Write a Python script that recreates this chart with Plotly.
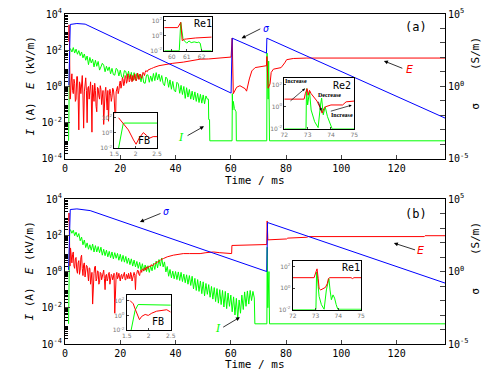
import plotly.graph_objects as go

FONT = "DejaVu Sans Mono"
RED, GREEN, BLUE = "#ff0000", "#00ff00", "#0000ff"

# ---------------- sample times of the noisy parts (ms) ----------------
T_NOISE = [2.0, 2.5, 3.0, 3.5, 4.0, 4.5, 5.0, 5.5, 6.0, 6.5, 7.0, 7.5, 8.0, 8.5, 9.0, 9.5,
           10.0, 10.5, 11.0, 11.5, 12.0, 12.5, 13.0, 13.5, 14.0, 14.5, 15.0, 15.5, 16.0, 16.5,
           17.0, 17.5, 18.0, 18.5, 19.0, 19.5, 20.0, 20.5, 21.0, 21.5, 22.0, 22.5, 23.0, 23.5,
           24.0, 24.5, 25.0, 25.5, 26.0, 26.5, 27.0, 27.5, 28.0, 28.5, 29.0, 29.5, 30.0, 30.5,
           31.0, 31.5, 32.0, 32.5, 33.0, 33.5, 34.0, 34.5, 35.0, 35.5, 36.0, 36.5, 37.0, 37.5,
           38.0, 38.5, 39.0, 39.5, 40.0, 40.5, 41.0, 41.5, 42.0, 42.5, 43.0, 43.5, 44.0, 44.5,
           45.0, 45.5, 46.0, 46.5, 47.0, 47.5, 48.0, 48.5, 49.0, 49.5, 50.0, 50.5, 51.0, 51.5,
           52.0, 52.5, 53.0, 53.5, 54.0, 54.5, 55.0, 55.5, 56.0, 56.5, 57.0, 57.5, 58.0, 58.5,
           59.0, 59.5, 60.0, 60.5, 61.0, 61.5, 62.0, 62.5, 63.0, 63.5, 64.0, 64.5, 65.0, 65.5,
           66.0, 66.5, 67.0, 67.5, 68.0, 68.5]
T_FINE = [2.0, 2.25, 2.5, 2.75, 3.0, 3.25, 3.5, 3.75, 4.0, 4.25, 4.5, 4.75, 5.0, 5.25, 5.5, 5.75,
          6.0, 6.25, 6.5, 6.75, 7.0, 7.25, 7.5, 7.75, 8.0, 8.25, 8.5, 8.75, 9.0, 9.25, 9.5, 9.75,
          10.0, 10.25, 10.5, 10.75, 11.0, 11.25, 11.5, 11.75, 12.0, 12.25, 12.5, 12.75, 13.0, 13.25,
          13.5, 13.75, 14.0, 14.25, 14.5, 14.75, 15.0, 15.25, 15.5, 15.75, 16.0, 16.25, 16.5, 16.75,
          17.0, 17.25, 17.5, 17.75, 18.0, 18.25, 18.5, 18.75, 19.0, 19.25, 19.5, 19.75, 20.0, 20.25,
          20.5, 20.75, 21.0, 21.25, 21.5, 21.75, 22.0, 22.25, 22.5, 22.75, 23.0, 23.25, 23.5, 23.75,
          24.0, 24.25, 24.5, 24.75, 25.0, 25.25, 25.5, 25.75, 26.0, 26.25, 26.5, 26.75, 27.0, 27.25,
          27.5, 27.75, 28.0, 28.25, 28.5, 28.75, 29.0, 29.25, 29.5, 29.75, 30.0, 30.25, 30.5, 30.75,
          31.0, 31.25, 31.5, 31.75, 32.0, 32.25, 32.5, 32.75, 33.0, 33.25, 33.5, 33.75, 34.0, 34.25,
          34.5, 34.75]

# ---------------- panel (a) ----------------
# current I (A), noisy part t = 2.0 .. 51.5
I_A_NOISE = [120, 80, 140, 70, 115, 60, 95, 50, 80, 38,
             62, 28, 48, 16, 40, 20, 32, 12, 28, 13,
             24, 8, 12, 19, 15, 6.5, 13, 7.5, 12, 5,
             10, 4.5, 4.2, 10, 8.5, 3.8, 8, 3.4, 3.0, 7.5,
             6.8, 2.8, 7, 2.6, 6, 2.0, 5.8, 2.2, 5.2, 2.6,
             4.8, 1.8, 4.6, 1.6, 1.5, 4.2, 4.4, 1.7, 3.8, 1.9,
             5.2, 2.1, 5.8, 2.3, 4.8, 1.9, 4.0, 1.5, 1.1, 3.3,
             2.6, 0.9, 2.3, 0.7, 1.9, 0.62, 0.5, 1.7, 1.4, 0.42,
             1.15, 0.36, 1.0, 0.22, 0.85, 0.26, 0.68, 0.2, 0.55, 0.18,
             0.5, 0.15, 0.42, 0.13, 0.37, 0.12, 0.34, 0.11, 0.3, 0.2]
I_A_START_T = [1.3, 1.45, 1.7]
I_A_START_V = [0.001, 0.1, 120]
I_A_END_T = [51.9, 52.0, 52.3, 52.4, 60.45, 60.55, 60.7, 60.9, 61.3, 61.9, 62.0,
             73.0, 73.1, 73.5, 73.7, 74.0, 137.5]
I_A_END_V = [0.2, 0.015, 0.015, 0.001, 0.001, 0.4, 0.05, 0.15, 0.06, 0.04, 0.001,
             0.001, 70, 0.2, 25, 0.001, 0.001]

# electric field E (kV/m), noisy part t = 2.0 .. 31.75 (0.25 ms samples)
E_A_NOISE = [0.3, 2, 5, 0.6, 0.4, 2.5, 1.5, 0.15, 0.2, 3.5, 3.5, 0.3,
             0.004, 1.8, 1.2, 0.4, 2.5, 4, 0.3, 0.005, 0.5, 1.2, 3, 0.6,
             0.01, 0.8, 1, 0.2, 0.5, 1.8, 0.3, 0.003, 1.2, 0.4, 0.15, 1.5,
             0.6, 0.08, 0.04, 0.9, 0.8, 0.3, 0.2, 1.1, 0.7, 0.1, 0.3, 0.6,
             0.008, 0.4, 0.5, 0.9, 0.2, 0.05, 0.6, 0.012, 0.3, 0.7, 0.4, 0.15,
             0.25, 0.8, 0.7, 0.3, 0.05, 0.006, 0.5, 0.9, 1, 0.4, 0.6, 1.5,
             2, 0.8, 1.2, 3, 2.5, 1.1, 1.5, 4, 3.5, 1.5, 2, 5,
             4, 1.8, 2.2, 4.5, 3, 1.8, 4, 2.2, 2.5, 5, 3.5, 2,
             2.8, 5.5, 4.5, 2.4, 3, 4.8, 3.5, 2.8, 4.5, 6, 5, 4,
             6, 7.5, 7, 6.5, 8, 8.5, 8.5, 9, 9.5, 9.8, 10, 10.5]
E_A_START_T = [1.35, 1.45, 1.55, 1.7, 1.85]
E_A_START_V = [300, 2500, 1000, 30, 0.2]
E_A_END_T = [32.0, 34.0, 36.8, 39.0, 42.8, 45.0, 48.9, 52.0, 54.9, 58.0, 60.1,
             60.5, 60.9, 62.1, 63.3, 65.2, 65.7, 66.7, 67.6, 68.8, 72.4, 72.9,
             73.05, 73.5, 74.2, 74.6, 75.4, 78.2, 79.5, 80.2, 82.6, 87.5, 137.5]
E_A_END_V = [11, 14, 17, 19, 22, 25, 32, 33, 35, 38, 42,
             470, 0.4, 0.9, 1.1, 0.75, 0.55, 2.6, 7.2, 11, 14, 14,
             45, 0.8, 1.4, 5.9, 9, 11, 20, 30, 35, 37, 37]

# conductivity sigma (S/m)
S_A_T = [1.4, 1.9, 4.3, 7.3, 60.1, 60.5, 72.9, 73.05, 137.5]
S_A_V = [1.2, 1.9e4, 2.2e4, 2.0e4, 0.35, 2150, 200, 2150, 0.0066]

# ---------------- panel (b) ----------------
I_B_NOISE = [200, 130, 190, 95, 150, 80, 125, 50, 80, 30,
             55, 21, 38, 17, 30, 15, 33, 12, 27, 12,
             24, 11, 22, 8, 17, 7.5, 15, 6.5, 13, 5.8,
             12, 5, 11, 5.4, 10, 4.2, 9, 3.6, 7.8, 3.3,
             6.8, 2.8, 5.6, 2.4, 5, 2, 4.3, 1.8, 3.6, 1.5,
             3.2, 1.2, 2.7, 1.05, 2.3, 1.0, 2.1, 0.9, 2.0, 1.1,
             2.8, 1.3, 3.8, 1.6, 4.6, 2.0, 5.6, 1.8, 3.4, 0.95,
             1.9, 0.55, 1.3, 0.45, 1.05, 0.4, 1.0, 0.36, 0.95, 0.32,
             0.9, 0.28, 0.72, 0.24, 0.66, 0.2, 0.6, 0.17, 0.55, 0.11,
             0.42, 0.09, 0.36, 0.08, 0.3, 0.06, 0.27, 0.045, 0.22, 0.055,
             0.19, 0.038, 0.15, 0.03, 0.13, 0.022, 0.115, 0.018, 0.1, 0.015,
             0.09, 0.011, 0.08, 0.009, 0.065, 0.012, 0.05, 0.006, 0.04, 0.004,
             0.033, 0.0025, 0.027, 0.005, 0.05, 0.008, 0.075, 0.012, 0.085, 0.016,
             0.09, 0.025, 0.08, 0.035]
I_B_START_T = [1.3, 1.45, 1.7]
I_B_START_V = [0.0013, 0.1, 200]
I_B_END_T = [68.7, 73.05, 73.15, 73.4, 73.8, 74.0, 137.5]
I_B_END_V = [0.0013, 0.0013, 22, 0.01, 1.0, 0.0013, 0.0013]

# electric field, noisy part t = 2.0 .. 34.75 (0.25 ms samples)
E_B_NOISE = [20, 4, 3, 9, 12, 2, 1.5, 5, 6, 1.2, 0.8, 3,
             4, 0.7, 1.2, 6, 8, 1.5, 0.6, 2.5, 3, 0.5, 0.9, 2.2,
             2, 0.4, 0.3, 1.6, 1.5, 0.2, 0.5, 0.9, 0.016, 0.7, 0.8, 1.8,
             2, 0.3, 0.4, 1.1, 1, 0.2, 0.25, 0.9, 0.8, 0.35, 0.5, 1.0,
             1.2, 0.4, 0.1, 0.6, 0.7, 0.3, 0.4, 0.8, 0.9, 0.2, 0.3, 0.7,
             0.6, 0.35, 0.5, 0.8, 0.005, 0.4, 0.6, 0.9, 0.4, 0.5, 0.8, 0.45,
             0.3, 0.6, 0.7, 0.4, 0.5, 0.8, 0.9, 0.35, 0.35, 0.7, 0.6, 0.4,
             0.8, 0.5, 0.4, 0.9, 0.7, 0.3, 0.5, 0.8, 0.9, 0.6, 0.1, 0.7,
             0.8, 1.2, 1.1, 0.7, 0.6, 1.0, 1.2, 0.9, 1.4, 1.3, 1.1, 1.5,
             1.6, 1.2, 1.8, 1.7, 1.5, 1.9, 2, 1.8, 2.2, 2.4, 2, 2.3,
             2.4, 2.6, 2.7, 2.9, 3, 3.2, 3.4, 3.6, 3.8, 4.0, 4.2, 4.6]
E_B_START_T = [1.35, 1.45, 1.6, 1.8]
E_B_START_V = [600, 1700, 100, 2]
E_B_END_T = [35.6, 37.0, 39.2, 42.8, 45.0, 48.9, 51.0, 53.7, 56.0, 59.7, 60.3,
             60.4, 73.0, 73.15, 73.4, 80.2, 80.6, 87.5, 88.0, 130.0, 130.3, 137.5]
E_B_END_V = [5.2, 6.5, 8, 9.8, 9.8, 9.8, 11, 12, 11, 9.8, 9.8,
             27.5, 31, 620, 56, 63, 70, 78, 85, 85, 95, 95]

S_B_T = [1.3, 1.9, 4.3, 9.1, 73.0, 73.3, 137.5]
S_B_V = [1.3, 1.9e4, 2.1e4, 1.6e4, 1.0, 2400, 0.16]

# ---------------- insets ----------------
FB_A_ET = [1.60, 1.71, 1.83, 1.95, 2.01, 2.08, 2.18, 2.26, 2.32, 2.41, 2.5]
FB_A_EV = [100, 18.6, 2.5, 0.12, 0.033, 0.2, 1.1, 0.45, 0.2, 0.33, 0.33]
FB_A_IT = [1.6, 1.66, 1.71, 1.75, 2.5]
FB_A_IV = [0.01, 0.5, 18.6, 20, 20]

RE1_A_ET = [59.5, 60.4, 60.55, 60.6, 60.7, 60.85, 61.0, 61.6, 62.67]
RE1_A_EV = [12, 12, 40, 60, 0.22, 0.34, 0.37, 0.5, 0.65]
RE1_A_IT = [59.5, 60.5, 60.6, 60.75, 60.85, 61.0, 61.15, 61.3, 61.5, 61.7, 61.8, 61.9, 62.0, 62.67]
RE1_A_IV = [0.01, 0.01, 60, 0.4, 0.2, 0.1, 0.2, 0.12, 0.15, 0.12, 0.14, 0.1, 0.01, 0.01]

RE2_A_ET = [72.0, 72.85, 72.9, 72.98, 73.02, 73.08, 73.15, 73.3, 73.4, 73.55, 73.62, 73.7,
            73.78, 74.0, 74.5, 74.65, 75.0]
RE2_A_EV = [5.1, 5.1, 16, 46, 11.5, 32, 16, 6.2, 3.4, 0.74, 0.27, 0.74,
            1.05, 1.5, 1.5, 2.9, 3.4]
RE2_A_IT = [72.0, 72.93, 72.95, 73.0, 73.08, 73.15, 73.3, 73.45, 73.55, 73.6, 73.67, 73.75,
            73.85, 74.0, 74.05, 75.0]
RE2_A_IV = [0.01, 0.01, 46, 1.5, 26, 0.52, 0.045, 0.013, 1.5, 6.3, 0.19, 1.05,
            0.13, 0.013, 0.01, 0.01]

FB_B_ET = [1.575, 1.65, 1.69, 1.73, 1.79, 1.84, 1.92, 1.99, 2.07, 2.18, 2.41, 2.5]
FB_B_EV = [100, 36, 7.8, 1.7, 0.27, 0.74, 1.35, 1.0, 2.0, 3.7, 5.8, 2.8]
FB_B_IT = [1.6, 1.69, 1.76, 2.45, 2.5]
FB_B_IV = [0.01, 4.6, 29, 29, 24]

RE1_B_ET = [72.0, 72.94, 73.02, 73.07, 73.12, 73.16, 73.23, 73.33, 73.44, 73.52, 73.57, 73.62,
            74.56, 74.63, 74.69, 75.0]
RE1_B_EV = [9.5, 9.5, 32, 63, 7.8, 0.95, 0.69, 0.85, 1.2, 2.7, 7.8, 9.5,
            9.5, 7.8, 9.5, 9.5]
RE1_B_IT = [72.0, 73.02, 73.05, 73.09, 73.12, 73.16, 73.26, 73.38, 73.48, 73.55, 73.59, 73.64,
            73.7, 73.77, 73.84, 73.91, 73.98, 75.0]
RE1_B_IV = [0.01, 0.01, 32, 11, 1.4, 0.17, 0.03, 0.011, 0.69, 3.9, 7.8, 0.69,
            0.085, 0.24, 0.12, 0.03, 0.011, 0.011]

# ---------------- build ----------------
fig = go.Figure()


def add(x, y, color, xa, ya):
    fig.add_trace(go.Scatter(x=x, y=y, mode="lines", line=dict(color=color, width=1),
                             xaxis=xa, yaxis=ya, showlegend=False, hoverinfo="skip"))


nA = len(I_A_NOISE)
nEA = len(E_A_NOISE)
nB = len(I_B_NOISE)
nEB = len(E_B_NOISE)

add(I_A_START_T + T_NOISE[:nA] + I_A_END_T, I_A_START_V + I_A_NOISE + I_A_END_V, GREEN, "x", "y")
add(E_A_START_T + T_FINE[:nEA] + E_A_END_T, E_A_START_V + E_A_NOISE + E_A_END_V, RED, "x", "y")
add(S_A_T, S_A_V, BLUE, "x", "y2")

add(I_B_START_T + T_NOISE[:nB] + I_B_END_T, I_B_START_V + I_B_NOISE + I_B_END_V, GREEN, "x2", "y3")
add(E_B_START_T + T_FINE[:nEB] + E_B_END_T, E_B_START_V + E_B_NOISE + E_B_END_V, RED, "x2", "y3")
add(S_B_T, S_B_V, BLUE, "x2", "y4")

add(FB_A_IT, FB_A_IV, GREEN, "x3", "y5")
add(FB_A_ET, FB_A_EV, RED, "x3", "y5")
add(RE1_A_IT, RE1_A_IV, GREEN, "x4", "y6")
add(RE1_A_ET, RE1_A_EV, RED, "x4", "y6")
add(RE2_A_IT, RE2_A_IV, GREEN, "x5", "y7")
add(RE2_A_ET, RE2_A_EV, RED, "x5", "y7")
add(FB_B_IT, FB_B_IV, GREEN, "x6", "y8")
add(FB_B_ET, FB_B_EV, RED, "x6", "y8")
add(RE1_B_IT, RE1_B_IV, GREEN, "x7", "y9")
add(RE1_B_ET, RE1_B_EV, RED, "x7", "y9")

# ---------------- axes ----------------
W, H = 491, 371
ML, MR, MT, MB = 65, 46, 7, 27
PW, PH = W - ML - MR, H - MT - MB


def dx(px):
    return (px - ML) / PW


def dy(py):
    return (H - MB - py) / PH


tickfont = dict(family=FONT, size=10, color="black")
minor_left = [m * 10.0 ** k for k in range(-4, 4) for m in range(2, 10)]

common_x = dict(range=[0, 137.5], tickvals=[0, 20, 40, 60, 80, 100, 120], ticks="inside",
                ticklen=4, showline=True, linecolor="black", linewidth=1, mirror=True,
                showgrid=False, zeroline=False, tickfont=tickfont)
left_vals = [1e-4, 1e-2, 1, 1e2, 1e4]
left_text = ["10<sup>-4</sup>", "10<sup>-2</sup>", "10<sup>0</sup>", "10<sup>2</sup>", "10<sup>4</sup>"]
common_yl = dict(type="log", range=[-4, 4], tickvals=left_vals, ticktext=left_text, ticks="inside",
                 ticklen=5, showline=True, linecolor="black", linewidth=1, showgrid=False,
                 zeroline=False, tickfont=tickfont,
                 minor=dict(tickvals=minor_left, ticks="inside", ticklen=3, tickcolor="black"))
right_vals = [10.0 ** k for k in range(-5, 6)]
right_text = ["10<sup>-5</sup>" if k == -5 else "10<sup>0</sup>" if k == 0 else "10<sup>5</sup>" if k == 5 else ""
              for k in range(-5, 6)]
common_yr = dict(type="log", range=[-5, 5], tickvals=right_vals, ticktext=right_text, ticks="inside",
                 ticklen=5, showline=True, linecolor="black", linewidth=1, showgrid=False,
                 zeroline=False, tickfont=tickfont, side="right")

A_TOP, A_BOT = 7, 155
B_TOP, B_BOT = 196, 344

layout = dict(
    width=W, height=H, margin=dict(l=ML, r=MR, t=MT, b=MB),
    paper_bgcolor="white", plot_bgcolor="white", showlegend=False,
    font=dict(family=FONT, size=10, color="black"),
    xaxis=dict(common_x, domain=[0, 1], anchor="y"),
    yaxis=dict(common_yl, domain=[dy(A_BOT), dy(A_TOP)], anchor="x"),
    yaxis2=dict(common_yr, overlaying="y", anchor="x"),
    xaxis2=dict(common_x, domain=[0, 1], anchor="y3"),
    yaxis3=dict(common_yl, domain=[dy(B_BOT), dy(B_TOP)], anchor="x2"),
    yaxis4=dict(common_yr, overlaying="y3", anchor="x2"),
)

inset_font = dict(family="DejaVu Sans", size=6, color="#777777")
inset_y = dict(type="log", tickvals=[1e-2, 1, 1e2],
               ticktext=["10<sup>-2</sup>", "10<sup>0</sup>", "10<sup>2</sup>"],
               ticks="inside", ticklen=2, showline=True, linecolor="black", linewidth=1, mirror=True,
               showgrid=False, zeroline=False, tickfont=inset_font)
inset_x = dict(ticks="inside", ticklen=2, showline=True, linecolor="black", linewidth=1, mirror=True,
               showgrid=False, zeroline=False, tickfont=inset_font)

insets = [
    # (xaxis, yaxis, px left, px right, py top, py bottom, xrange, yrange, xticks, xtext)
    (3, 5, 114.3, 157.0, 108.3, 144.0, [1.5, 2.5], [-2, 2.6], [1.5, 2, 2.5], ["1.5", "2", "2.5"]),
    (4, 6, 164.3, 211.7, 10.0, 44.5, [59.5, 62.67], [-2, 2.5], [60, 61, 62], ["60", "61", "62"]),
    (5, 7, 284.3, 354.3, 72.7, 124.3, [72, 75], [-2, 2.6], [72, 73, 74, 75], ["72", "73", "74", "75"]),
    (6, 8, 126.7, 170.7, 294.3, 330.0, [1.5, 2.5], [-2, 2.7], [1.5, 2, 2.5], ["1.5", "2", "2.5"]),
    (7, 9, 292.7, 361.0, 259.0, 309.0, [72, 75], [-2, 2.55], [72, 73, 74, 75], ["72", "73", "74", "75"]),
]
for xa, ya, l, r, t, b, xr, yr, xt, xtt in insets:
    layout["xaxis%d" % xa] = dict(inset_x, domain=[dx(l), dx(r)], anchor="y%d" % ya, range=xr,
                                  tickvals=xt, ticktext=xtt)
    layout["yaxis%d" % ya] = dict(inset_y, domain=[dy(b), dy(t)], anchor="x%d" % xa, range=yr)

fig.update_layout(**layout)

# ---------------- annotations ----------------
ann = []


def text(x, y, s, xref, yref, size=10, color="black", font=FONT, angle=0):
    ann.append(dict(x=x, y=y, xref=xref, yref=yref, text=s, showarrow=False, textangle=angle,
                    font=dict(family=font, size=size, color=color), xanchor="center", yanchor="middle"))


def arrow(hx, hy, tx, ty, xref, yref, w=0.8, head=2, size=1.0):
    ann.append(dict(x=hx, y=hy, ax=tx, ay=ty, xref=xref, yref=yref, axref=xref, ayref=yref,
                    text="", showarrow=True, arrowhead=head, arrowsize=size, arrowwidth=w,
                    arrowcolor="black"))


NB = "\u00a0"
# axis titles
for (top, bot) in [(A_TOP, A_BOT), (B_TOP, B_BOT)]:
    mid = (top + bot) / 2
    text(dx(30), dy(mid), "<i>I</i>" + NB + "(A)" + NB * 2 + "<i>E</i>" + NB + "(kV/m)",
         "paper", "paper", size=11, angle=-90)
    text(dx(476), dy(mid - 14), "σ" + NB * 5 + "(S/m)", "paper", "paper", size=11, angle=-90)
text(dx(255), dy(177), "Time" + NB + "/" + NB + "ms", "paper", "paper", size=11)
text(dx(255), dy(365), "Time" + NB + "/" + NB + "ms", "paper", "paper", size=11)

# panel (a)
text(126.9, 3.26, "(a)", "x", "y", size=12)
text(72.6, 3.2, "<i>σ</i>", "x", "y", size=10, color=BLUE)
arrow(63.9, 2.66, 71.2, 3.22, "x", "y")
text(124.6, 0.96, "<i>E</i>", "x", "y", size=11, color=RED, font="DejaVu Sans")
arrow(115.4, 1.41, 122.6, 0.97, "x", "y")
text(42.0, -2.79, "<i>I</i>", "x", "y", size=11, color=GREEN, font="DejaVu Serif")
arrow(50.3, -2.2, 43.8, -2.76, "x", "y")

# panel (b)
text(126.9, 3.19, "(b)", "x2", "y3", size=12)
text(36.4, 3.3, "<i>σ</i>", "x2", "y3", size=10, color=BLUE)
arrow(27.1, 2.74, 35.1, 3.24, "x2", "y3")
text(128.8, 1.17, "<i>E</i>", "x2", "y3", size=11, color=RED, font="DejaVu Sans")
arrow(119.0, 1.57, 127.2, 1.17, "x2", "y3")
text(55.4, -3.15, "<i>I</i>", "x2", "y3", size=11, color=GREEN, font="DejaVu Serif")
arrow(63.3, -2.52, 56.7, -3.12, "x2", "y3")

# inset labels
text(0.70, 0.22, "FB", "x3 domain", "y5 domain", size=10)
text(0.81, 0.80, "Re1", "x4 domain", "y6 domain", size=10)
text(0.83, 0.85, "Re2", "x5 domain", "y7 domain", size=10)
text(0.72, 0.24, "FB", "x6 domain", "y8 domain", size=10)
text(0.86, 0.87, "Re1", "x7 domain", "y9 domain", size=10)

# Re2 notes
serif = "Liberation Serif"
text(72.52, 2.35, "<b>Increase</b>", "x5", "y7", size=6, font=serif)
arrow(72.89, 1.68, 72.2, 0.43, "x5", "y7", w=0.7, size=0.8)
text(73.92, 1.05, "<b>Decrease</b>", "x5", "y7", size=6, font=serif)
arrow(73.59, -0.37, 73.44, 0.61, "x5", "y7", w=0.7, size=0.8)
text(74.46, -0.73, "<b>Increase</b>", "x5", "y7", size=6, font=serif)
arrow(74.89, 0.16, 73.93, -0.43, "x5", "y7", w=0.7, size=0.8)

fig.update_layout(annotations=ann)
fig.write_html("out.html", config={"displayModeBar": False},
               post_script="document.body.style.margin='0';document.body.style.padding='0';")
